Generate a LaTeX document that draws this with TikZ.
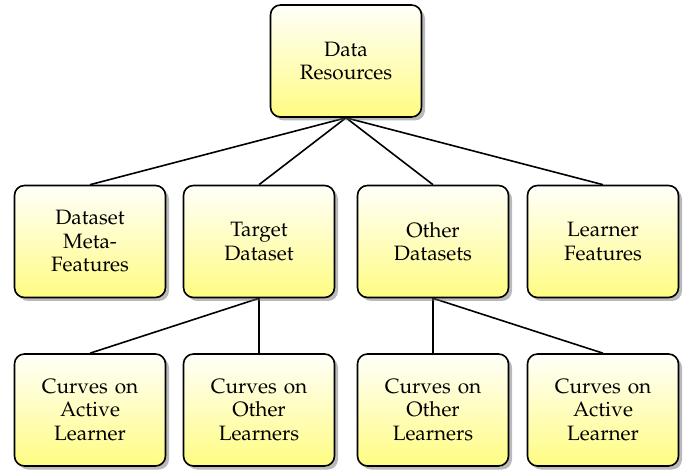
\documentclass[tikz,border=0pt]{standalone}
\usepackage[T1]{fontenc}
\usepackage{mathpazo}
\usetikzlibrary{shadows,backgrounds}
\definecolor{boxbottom}{RGB}{255,252,130}
\definecolor{boxtop}{RGB}{255,255,250}
\tikzset{
  box/.style={draw=black, line width=1.6pt, rounded corners=10pt,
    minimum width=151pt, minimum height=112pt, text width=140pt, align=center,
    top color=boxtop, bottom color=boxbottom,
    drop shadow={shadow xshift=3.5pt, shadow yshift=-3.5pt, opacity=0.45, fill=black!60},
    font=\fontsize{20.8}{23.5}\selectfont},
  link/.style={line width=1.6pt, black}
}
\begin{document}
\begin{tikzpicture}[x=1pt,y=-1pt]
\useasboundingbox (0,0) rectangle (686,470);
\node[box] (data) at (346,61) {Data\\Resources};
\node[box] (meta) at (90,241.5) {Dataset\\Meta-\\Features};
\node[box] (target) at (259,241.5) {Target\\Dataset};
\node[box] (other) at (433,241.5) {Other\\Datasets};
\node[box] (lfeat) at (603,241.5) {Learner\\Features};
\node[box] (c1) at (90,410) {Curves on\\Active\\Learner};
\node[box] (c2) at (259,410) {Curves on\\Other\\Learners};
\node[box] (c3) at (433,410) {Curves on\\Other\\Learners};
\node[box] (c4) at (603,410) {Curves on\\Active\\Learner};
\begin{scope}[on background layer]
\draw[link] (data.south) -- (meta.north);
\draw[link] (data.south) -- (target.north);
\draw[link] (data.south) -- (other.north);
\draw[link] (data.south) -- (lfeat.north);
\draw[link] (target.south) -- (c1.north);
\draw[link] (target.south) -- (c2.north);
\draw[link] (other.south) -- (c3.north);
\draw[link] (other.south) -- (c4.north);
\end{scope}
\end{tikzpicture}
\end{document}
